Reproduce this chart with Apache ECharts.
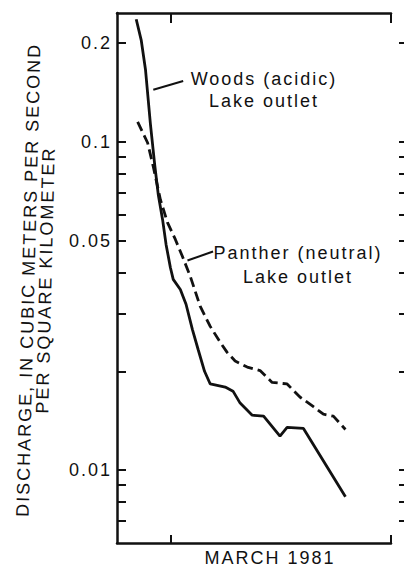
<!DOCTYPE html>
<html>
<head>
<meta charset="utf-8">
<script src="https://cdn.jsdelivr.net/npm/echarts@6/dist/echarts.min.js"></script>
<style>
  html, body { margin: 0; padding: 0; background: #fff; }
  #chart { width: 404px; height: 570px; }
  /* the scanned figure uses widely spaced type */
  #chart text { letter-spacing: 2px; }
</style>
</head>
<body>
<div id="chart"></div>
<script>
// days from 1 March 1981 (tick at 0 = Mar 1, tick at 31 = Apr 1)
const woodsDays = [-4.8, -4.1, -3.5, -2.8, -2.2, -1.7, -1.1, -0.6, 0, 0.4, 1.4, 2.2, 3.1, 3.9, 4.8, 5.6, 7.7, 8.8, 9.8, 11.5, 13.1, 15.4, 16.4, 18.7, 24.6];
const woodsQ = [0.236, 0.204, 0.166, 0.113, 0.085, 0.069, 0.058, 0.0486, 0.0414, 0.0381, 0.0355, 0.032, 0.0268, 0.0233, 0.02, 0.0183, 0.0179, 0.0174, 0.016, 0.0147, 0.0146, 0.0127, 0.0135, 0.0134, 0.0083];
const pantherDays = [-4.6, -3.2, -2.4, -1.4, -0.4, 0.7, 1.7, 2.8, 4.2, 5.6, 7.0, 8.0, 9.1, 10.8, 12.6, 14.3, 16.4, 18.2, 20.1, 21.5, 22.9, 24.6];
const pantherQ = [0.115, 0.0993, 0.0839, 0.0666, 0.0567, 0.0504, 0.0447, 0.0389, 0.0315, 0.0274, 0.0245, 0.0228, 0.0215, 0.0206, 0.0201, 0.0185, 0.0183, 0.0167, 0.0156, 0.0148, 0.0146, 0.0133];

const yTicks = [0.2, 0.1, 0.09, 0.08, 0.07, 0.06, 0.05, 0.04, 0.03, 0.02, 0.01, 0.009, 0.008, 0.007];
const yLabels = [0.2, 0.1, 0.05, 0.01];
const xTicks = [0, 31];
const xLabelAt = [14];
const xName = 'MARCH 1981';
const yName = 'DISCHARGE, IN CUBIC METERS PER SECOND\nPER SQUARE KILOMETER';

const FONT = '"Liberation Sans", Arial, sans-serif';
const INK = '#111';

const chart = echarts.init(document.getElementById('chart'), null, { renderer: 'svg' });

const toPairs = (xs, ys) => xs.map((x, i) => [x, ys[i]]);

const xBase = {
  type: 'value',
  min: -7.5,
  max: 31,
  splitLine: { show: false }
};

const option = {
  animation: false,
  grid: { left: 117, right: 13, top: 13, bottom: 27 },
  xAxis: [
    Object.assign({}, xBase, {
      position: 'bottom',
      axisLine: { show: true, onZero: false, lineStyle: { color: INK, width: 2.5 } },
      axisTick: { show: true, inside: true, length: 8, customValues: xTicks, lineStyle: { color: INK, width: 2 } },
      axisLabel: {
        show: true, customValues: xLabelAt, formatter: () => xName,
        margin: 6, color: INK, fontSize: 18, fontFamily: FONT
      }
    }),
    Object.assign({}, xBase, {
      position: 'top',
      axisLine: { show: true, onZero: false, lineStyle: { color: INK, width: 2.5 } },
      axisTick: { show: true, inside: true, length: 10, customValues: xTicks, lineStyle: { color: INK, width: 2 } },
      axisLabel: { show: false }
    })
  ],
  yAxis: [
    {
      type: 'log',
      min: 0.006,
      max: 0.2466,
      position: 'left',
      axisLine: { show: true, onZero: false, lineStyle: { color: INK, width: 2.5 } },
      axisTick: { show: true, inside: true, length: 9, customValues: yTicks, lineStyle: { color: INK, width: 2 } },
      axisLabel: {
        show: true, customValues: yLabels, formatter: (v) => String(v),
        margin: 5, color: INK, fontSize: 18, fontFamily: FONT
      },
      splitLine: { show: false },
      minorTick: { show: false }
    },
    {
      type: 'log',
      min: 0.006,
      max: 0.2466,
      position: 'right',
      offset: 13,
      axisLine: { show: false, onZero: false },
      axisTick: { show: true, inside: true, length: 5, customValues: yTicks, lineStyle: { color: INK, width: 2 } },
      axisLabel: { show: false },
      splitLine: { show: false }
    }
  ],
  series: [
    {
      name: 'Woods (acidic) Lake outlet',
      type: 'line',
      data: toPairs(woodsDays, woodsQ),
      symbol: 'none',
      lineStyle: { color: INK, width: 2.8, type: 'solid' },
      markLine: {
        silent: true,
        symbol: ['none', 'none'],
        label: { show: false },
        lineStyle: { color: INK, width: 2, type: 'solid' },
        data: [[{ coord: [-2.4, 0.144] }, { coord: [1.8, 0.153] }]]
      }
    },
    {
      name: 'Panther (neutral) Lake outlet',
      type: 'line',
      data: toPairs(pantherDays, pantherQ),
      symbol: 'none',
      lineStyle: { color: INK, width: 2.8, type: [10, 5] },
      markLine: {
        silent: true,
        symbol: ['none', 'none'],
        label: { show: false },
        lineStyle: { color: INK, width: 2, type: 'solid' },
        data: [[{ coord: [2.4, 0.0435] }, { coord: [6.0, 0.0463] }]]
      }
    }
  ],
  graphic: [
    {
      type: 'text',
      x: 37, y: 280,
      rotation: Math.PI / 2 - 0.025,
      style: {
        text: yName, align: 'center', verticalAlign: 'middle',
        fill: INK, fontSize: 18, fontFamily: FONT, lineHeight: 17
      }
    },
    {
      type: 'text',
      x: 264, y: 90,
      style: {
        text: 'Woods (acidic)\nLake outlet', align: 'center', verticalAlign: 'middle',
        fill: INK, fontSize: 18, fontFamily: FONT, lineHeight: 22
      }
    },
    {
      type: 'text',
      x: 298, y: 265,
      style: {
        text: 'Panther (neutral)\nLake outlet', align: 'center', verticalAlign: 'middle',
        fill: INK, fontSize: 18, fontFamily: FONT, lineHeight: 24
      }
    }
  ]
};

chart.setOption(option);
</script>
</body>
</html>
